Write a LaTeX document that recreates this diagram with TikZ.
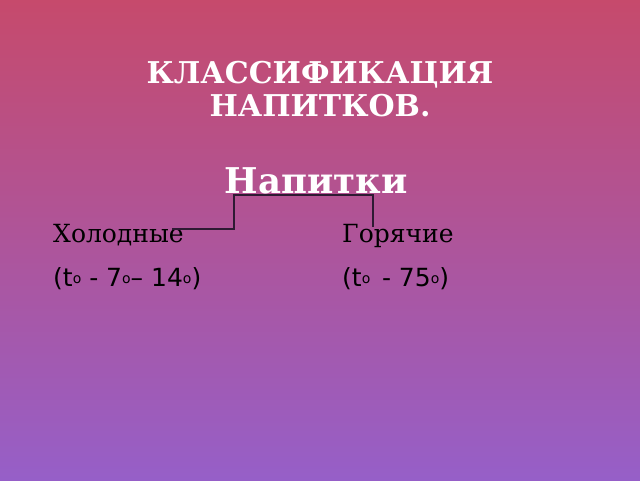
\documentclass[tikz,border=0pt]{standalone}
\usepackage{fontspec}
\setmainfont{DejaVu Serif}
\newfontfamily\sansf{DejaVu Sans}
\definecolor{rosetop}{HTML}{C64A6C}
\definecolor{rosemid}{HTML}{B05898}
\definecolor{violetbot}{HTML}{965FC8}
\definecolor{linkdark}{HTML}{2E1A33}
\newcommand{\tdeg}{\raisebox{3pt}{\fontsize{14}{14}\selectfont o}}

\begin{document}
\begin{tikzpicture}[x=1pt,y=1pt]
  \tikzset{T/.style={font=\bfseries\fontsize{30}{33.5}\selectfont, text=white, align=center}}
  \tikzset{H/.style={font=\bfseries\fontsize{35.5}{40}\selectfont, text=white, inner sep=0pt}}
  \tikzset{K/.style={font=\fontsize{25}{25}\selectfont, inner sep=0pt, anchor=base west}}
  \tikzset{D/.style={font=\sansf\fontsize{25}{25}\selectfont, inner sep=0pt, anchor=base west}}
  \tikzset{L/.style={draw=linkdark, line width=1.2pt}}
  \shade[top color=rosetop, middle color=rosemid, bottom color=violetbot]
    (0,0) rectangle (640,-480);
  \useasboundingbox (0,0) rectangle (640,-480);
  \node [T] (title) at (320,-89) {КЛАССИФИКАЦИЯ\\НАПИТКОВ.};
  \node [H, anchor=base] (drinks) at (316,-193) {Напитки};
  \node [K] (cold)  at (53,-242)  {Холодные};
  \node [D] (coldt) at (53,-286)  {(t\tdeg{} - 7\tdeg– 14\tdeg)};
  \node [K] (hot)   at (342,-242) {Горячие};
  \node [D] (hott)  at (342,-286) {(t\tdeg\hspace{0.15em} - 75\tdeg)};

  \coordinate (cl) at (172,-229);
  \coordinate (kl) at (234,-195);
  \coordinate (hr) at (373,-227);
  \draw [L] (cl) -| (kl) -| (hr);
\end{tikzpicture}
\end{document}
